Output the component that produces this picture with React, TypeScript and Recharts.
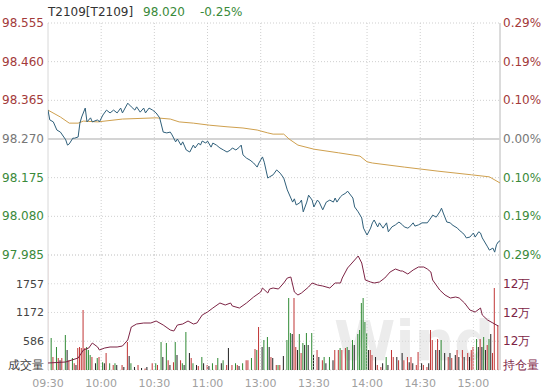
import React from 'react';
import {
  ComposedChart,
  Line,
  Bar,
  Cell,
  XAxis,
  YAxis,
  CartesianGrid,
  ReferenceLine,
} from 'recharts';

// minute index: 0 = 09:30, 120 = 11:30/13:00, 255 = 15:15
const PREV_CLOSE = 98.27;
const timeTicks = [0, 30, 60, 90, 120, 150, 180, 210, 240];
const timeLabels = ['09:30', '10:00', '10:30', '11:00', '13:00', '13:30', '14:00', '14:30', '15:00'];
const priceTicks = [97.985, 98.08, 98.175, 98.27, 98.365, 98.46, 98.555];
const volTicks = [0, 586, 1172, 1757];
const oiTicks = [119200, 120350, 121500, 122650];

const priceMinutes = [0, 1, 3, 5, 7, 10, 11, 12, 14, 15, 17, 18, 19, 21, 22, 24, 25, 28, 29, 31, 33, 35, 37, 39, 41, 42, 45, 47, 49, 50, 52, 54, 55, 57, 59, 61, 63, 65, 67, 69, 70, 72, 73, 75, 76, 78, 80, 82, 83, 85, 86, 87, 89, 90, 92, 93, 95, 97, 99, 101, 103, 104, 106, 108, 109, 110, 112, 114, 116, 118, 119, 121, 122, 124, 125, 127, 129, 131, 133, 135, 137, 138, 139, 140, 142, 143, 144, 146, 147, 149, 150, 152, 153, 155, 157, 159, 161, 162, 163, 165, 166, 168, 169, 172, 173, 175, 177, 178, 180, 182, 183, 184, 186, 187, 189, 191, 192, 194, 196, 198, 200, 201, 203, 204, 206, 207, 209, 211, 214, 216, 217, 219, 221, 222, 223, 225, 227, 228, 231, 232, 234, 235, 236, 238, 240, 241, 243, 244, 245, 248, 249, 251, 252, 253, 254, 255];
const prices = [98.341, 98.317, 98.312, 98.292, 98.287, 98.268, 98.255, 98.258, 98.272, 98.272, 98.275, 98.309, 98.324, 98.346, 98.312, 98.322, 98.312, 98.317, 98.312, 98.329, 98.341, 98.334, 98.341, 98.334, 98.346, 98.334, 98.358, 98.349, 98.341, 98.349, 98.336, 98.346, 98.334, 98.346, 98.341, 98.334, 98.322, 98.287, 98.285, 98.287, 98.28, 98.263, 98.27, 98.255, 98.263, 98.243, 98.238, 98.255, 98.248, 98.26, 98.255, 98.265, 98.26, 98.265, 98.25, 98.26, 98.255, 98.248, 98.243, 98.238, 98.243, 98.248, 98.243, 98.25, 98.255, 98.231, 98.223, 98.218, 98.211, 98.201, 98.211, 98.226, 98.213, 98.174, 98.177, 98.182, 98.194, 98.186, 98.174, 98.145, 98.125, 98.115, 98.123, 98.108, 98.113, 98.12, 98.091, 98.115, 98.132, 98.12, 98.103, 98.12, 98.115, 98.096, 98.115, 98.12, 98.115, 98.125, 98.115, 98.128, 98.132, 98.137, 98.142, 98.125, 98.103, 98.091, 98.076, 98.051, 98.034, 98.051, 98.064, 98.071, 98.054, 98.064, 98.051, 98.064, 98.042, 98.054, 98.059, 98.066, 98.059, 98.054, 98.051, 98.054, 98.064, 98.056, 98.059, 98.064, 98.064, 98.076, 98.083, 98.078, 98.091, 98.1, 98.088, 98.066, 98.064, 98.059, 98.051, 98.046, 98.039, 98.034, 98.027, 98.029, 98.039, 98.029, 98.042, 98.039, 98.027, 98.005, 97.997, 98.002, 97.992, 98.01, 98.017, 98.02];

const avgMinutes = [0, 7, 12, 17, 20, 28, 42, 61, 69, 74, 82, 91, 101, 110, 118, 124, 127, 133, 136, 141, 150, 164, 176, 180, 183, 201, 220, 239, 249, 255];
const avgPrices = [98.341, 98.324, 98.309, 98.309, 98.314, 98.312, 98.319, 98.322, 98.319, 98.312, 98.309, 98.304, 98.3, 98.297, 98.292, 98.285, 98.282, 98.282, 98.27, 98.255, 98.245, 98.236, 98.228, 98.214, 98.211, 98.201, 98.191, 98.182, 98.177, 98.162];

const oiMinutes = [0, 10, 17, 20, 23, 25, 28, 29, 32, 35, 39, 42, 45, 47, 50, 54, 58, 61, 65, 69, 71, 73, 76, 79, 82, 84, 87, 90, 93, 97, 100, 103, 104, 108, 112, 116, 120, 121, 124, 125, 127, 130, 133, 135, 137, 139, 141, 143, 147, 149, 152, 155, 159, 162, 165, 166, 169, 172, 175, 177, 179, 182, 184, 187, 190, 193, 196, 199, 200, 203, 206, 209, 212, 214, 216, 217, 219, 221, 224, 227, 230, 232, 235, 238, 241, 244, 245, 248, 251, 254];
const openInterest = [119480, 119520, 119680, 120000, 120080, 120280, 120120, 120000, 120080, 120120, 120120, 120160, 120400, 120920, 121040, 121080, 121080, 121160, 121000, 120800, 120760, 121000, 121040, 121160, 121040, 121080, 121400, 121520, 121680, 121880, 121800, 121880, 121760, 121680, 121880, 122120, 122320, 122480, 122280, 122440, 122480, 122440, 122680, 122880, 122920, 122320, 122200, 122280, 122520, 122680, 122600, 122560, 122480, 122680, 122680, 122880, 123280, 123520, 123760, 123480, 122800, 122720, 122680, 122720, 122880, 123120, 123240, 123160, 123160, 123040, 123200, 123320, 123320, 123240, 123120, 122800, 122600, 122400, 122200, 122080, 122120, 122080, 121880, 121600, 121520, 121680, 121400, 121200, 121080, 120960];

const volMinutes = [0, 2, 3, 5, 6, 7, 8, 10, 11, 12, 14, 15, 16, 17, 18, 19, 20, 21, 22, 23, 24, 25, 27, 28, 29, 31, 32, 33, 35, 37, 38, 39, 42, 43, 45, 46, 47, 49, 51, 53, 55, 56, 59, 61, 62, 64, 65, 67, 68, 69, 71, 72, 73, 75, 76, 77, 78, 80, 81, 82, 84, 85, 87, 88, 90, 91, 93, 95, 96, 98, 99, 101, 102, 104, 106, 107, 108, 110, 112, 113, 115, 117, 118, 119, 121, 122, 124, 125, 126, 127, 129, 130, 131, 133, 135, 136, 137, 138, 139, 140, 141, 142, 143, 144, 145, 146, 147, 149, 150, 152, 153, 155, 156, 157, 159, 161, 162, 164, 165, 166, 168, 169, 170, 172, 173, 175, 176, 177, 178, 179, 180, 181, 182, 183, 185, 186, 188, 189, 191, 192, 194, 195, 197, 198, 200, 201, 203, 204, 205, 206, 208, 209, 211, 212, 214, 215, 216, 217, 219, 220, 221, 222, 224, 226, 227, 228, 230, 231, 232, 234, 235, 237, 238, 239, 240, 242, 243, 244, 245, 246, 247, 248, 249, 250, 251, 252, 254];
const volumes = [2322, 652, 265, 470, 245, 200, 245, 713, 407, 200, 245, 140, 100, 450, 470, 450, 1222, 450, 470, 407, 305, 265, 140, 245, 265, 160, 140, 345, 140, 100, 140, 100, 100, 60, 570, 285, 140, 60, 100, 40, 30, 60, 140, 140, 100, 570, 265, 550, 200, 100, 160, 570, 305, 200, 140, 100, 775, 345, 245, 140, 100, 80, 265, 140, 100, 80, 140, 100, 245, 140, 200, 100, 450, 100, 140, 100, 80, 140, 200, 200, 245, 430, 407, 875, 470, 610, 670, 470, 265, 245, 100, 100, 100, 285, 610, 1465, 755, 735, 1465, 470, 407, 735, 345, 550, 510, 755, 510, 755, 305, 407, 265, 200, 265, 140, 265, 200, 407, 407, 448, 407, 450, 470, 407, 610, 510, 735, 815, 1365, 1465, 980, 755, 407, 407, 305, 265, 100, 60, 140, 265, 100, 407, 265, 265, 200, 345, 200, 265, 160, 265, 140, 100, 365, 140, 100, 60, 140, 815, 610, 407, 630, 407, 610, 345, 265, 345, 245, 305, 407, 265, 407, 265, 345, 265, 407, 470, 630, 470, 630, 470, 670, 407, 510, 630, 735, 345, 1670, 915];
// r = up, g = down, k = flat; ten bars per group
const volSides = [
  'rgrgrkrgkr', 'grkrrrrrgg', 'grkgrgkrgr', 'gkrkrkgkrk', 'rkrgrgkgrk',
  'rgkrgkgkrg', 'krgkrkgrgk', 'grkrgrkgrr', 'grgrkggkrk', 'rgrkgggkrr',
  'kgrgkgkgkr', 'krgkgkrrgr', 'rgkgkggggg', 'gkrrkrrkgk', 'rrkrkrrkrk',
  'rrkrrkrrkr', 'kgkrkrkrkr', 'krkrrgkrkg', 'krgkrrr',
].join('');

const RED = '#a33a3a';
const GREEN = '#3a8a3a';
const GRAY = '#777';
const OI_COLOR = '#7d2445';
const sideColor: Record<string, string> = { r: '#c03535', g: '#2f8a34', k: '#222' };

const priceData = priceMinutes.map((m, i) => ({ m, price: prices[i] }));
const avgData = avgMinutes.map((m, i) => ({ m, avg: avgPrices[i] }));
const oiData = oiMinutes.map((m, i) => ({ m, oi: openInterest[i] }));
const volData = volMinutes.map((m, i) => ({ m, vol: volumes[i], side: volSides[i] || 'k' }));

const priceColor = (v: number) =>
  v > PREV_CLOSE + 1e-6 ? RED : v < PREV_CLOSE - 1e-6 ? GREEN : GRAY;

const PriceTick = (props: any) => {
  const { x, y, payload } = props;
  const v = payload.value;
  return (
    <text x={x} y={y} dy={4} textAnchor="end" fontSize={12} fill={priceColor(v)}>
      {v.toFixed(3)}
    </text>
  );
};

const PctTick = (props: any) => {
  const { x, y, payload } = props;
  const v = payload.value;
  const pct = Math.abs(((v - PREV_CLOSE) / PREV_CLOSE) * 100).toFixed(2) + '%';
  return (
    <text x={x} y={y} dy={4} textAnchor="start" fontSize={12} fill={priceColor(v)}>
      {pct}
    </text>
  );
};

const VolTick = (props: any) => {
  const { x, y, payload } = props;
  const v = payload.value;
  return (
    <text x={x} y={y} dy={v === 0 ? -1 : 4} textAnchor="end" fontSize={v === 0 ? 12 : 11} fill="#444">
      {v === 0 ? '成交量' : v}
    </text>
  );
};

const OiTick = (props: any) => {
  const { x, y, payload } = props;
  const v = payload.value;
  return (
    <text x={x} y={y} dy={v === oiTicks[0] ? -1 : 4} textAnchor="start" fontSize={12} fill={OI_COLOR}>
      {v === oiTicks[0] ? '持仓量' : `${Math.round(v / 10000)}万`}
    </text>
  );
};

const TimeTick = (props: any) => {
  const { x, y, payload } = props;
  const idx = timeTicks.indexOf(payload.value);
  return (
    <text x={x} y={y + 17} textAnchor="middle" fontSize={11} fill="#a0a0a0">
      {timeLabels[idx]}
    </text>
  );
};

const W = 544;
const H = 392;

const App: React.FC = () => {
  return (
    <div
      style={{
        position: 'absolute',
        left: 0,
        top: 0,
        width: W,
        height: H,
        background: '#fff',
        fontFamily: '"DejaVu Sans", sans-serif',
        overflow: 'hidden',
      }}
    >
      <svg width={W} height={H} style={{ position: 'absolute', left: 0, top: 0 }}>
        <text x={334} y={360} fontSize={56} fontWeight="bold" fill="#ececec" textLength={160} lengthAdjust="spacingAndGlyphs">
          Wind
        </text>
        <text x={48} y={16} fontSize={12} fill="#333">T2109[T2109]</text>
        <text x={143} y={16} fontSize={12} fill={GREEN}>98.020</text>
        <text x={200} y={16} fontSize={12} fill={GREEN}>-0.25%</text>
      </svg>

      {/* price panel */}
      <div style={{ position: 'absolute', left: 0, top: 0 }}>
        <ComposedChart width={W} height={H} data={priceData} margin={{ top: 23, right: 0, bottom: 137, left: 0 }}>
          <CartesianGrid vertical={false} stroke="#cfcfcf" strokeDasharray="1 2" />
          <XAxis dataKey="m" type="number" domain={[0, 255]} ticks={timeTicks} hide allowDataOverflow />
          <YAxis
            domain={[97.985, 98.555]}
            ticks={priceTicks}
            width={48}
            axisLine={false}
            tickLine={false}
            tickSize={0}
            tickMargin={4}
            tick={<PriceTick />}
            allowDataOverflow
          />
          <YAxis
            yAxisId="pct"
            orientation="right"
            domain={[97.985, 98.555]}
            ticks={priceTicks}
            width={44}
            axisLine={false}
            tickLine={false}
            tickSize={0}
            tickMargin={3}
            tick={<PctTick />}
            allowDataOverflow
          />
          {timeTicks.slice(1).map((t) => (
            <ReferenceLine key={t} x={t} stroke="#cfcfcf" strokeDasharray="1 2" />
          ))}
          <ReferenceLine x={0} stroke="#d8d8d8" />
          <ReferenceLine x={255} stroke="#b8b8b8" />
          <ReferenceLine y={PREV_CLOSE} stroke="#d4d4d4" strokeWidth={2} />
          <Line
            yAxisId="pct"
            data={avgData}
            dataKey="avg"
            type="linear"
            stroke="#cfa04e"
            strokeWidth={1}
            dot={false}
            isAnimationActive={false}
          />
          <Line
            dataKey="price"
            type="linear"
            stroke="#2f5f7a"
            strokeWidth={1}
            dot={false}
            isAnimationActive={false}
          />
        </ComposedChart>
      </div>

      {/* volume / open interest panel */}
      <div style={{ position: 'absolute', left: 0, top: 0 }}>
        <ComposedChart width={W} height={H} data={volData} margin={{ top: 255, right: 0, bottom: 0, left: 0 }}>
          <CartesianGrid vertical={false} stroke="#d6d6d6" strokeDasharray="1 2" />
          <XAxis
            dataKey="m"
            type="number"
            domain={[0, 255]}
            ticks={timeTicks}
            height={22}
            axisLine={false}
            tickLine={false}
            tickSize={0}
            tickMargin={0}
            tick={<TimeTick />}
            allowDataOverflow
          />
          <YAxis
            domain={[0, 2343]}
            ticks={volTicks}
            width={48}
            axisLine={false}
            tickLine={false}
            tickSize={0}
            tickMargin={4}
            tick={<VolTick />}
            allowDataOverflow
          />
          <YAxis
            yAxisId="oi"
            orientation="right"
            domain={[119200, 123800]}
            ticks={oiTicks}
            width={44}
            axisLine={false}
            tickLine={false}
            tickSize={0}
            tickMargin={3}
            tick={<OiTick />}
            allowDataOverflow
          />
          {timeTicks.slice(1).map((t) => (
            <ReferenceLine key={t} x={t} stroke="#d6d6d6" strokeDasharray="1 2" />
          ))}
          <ReferenceLine x={0} stroke="#d8d8d8" />
          <ReferenceLine x={255} stroke="#b8b8b8" />
          <Bar dataKey="vol" barSize={1} isAnimationActive={false}>
            {volData.map((d, i) => (
              <Cell key={`v-${i}`} fill={sideColor[d.side]} />
            ))}
          </Bar>
          <Line
            yAxisId="oi"
            data={oiData}
            dataKey="oi"
            type="linear"
            stroke={OI_COLOR}
            strokeWidth={1}
            dot={false}
            isAnimationActive={false}
          />
        </ComposedChart>
      </div>
    </div>
  );
};

export default App;
